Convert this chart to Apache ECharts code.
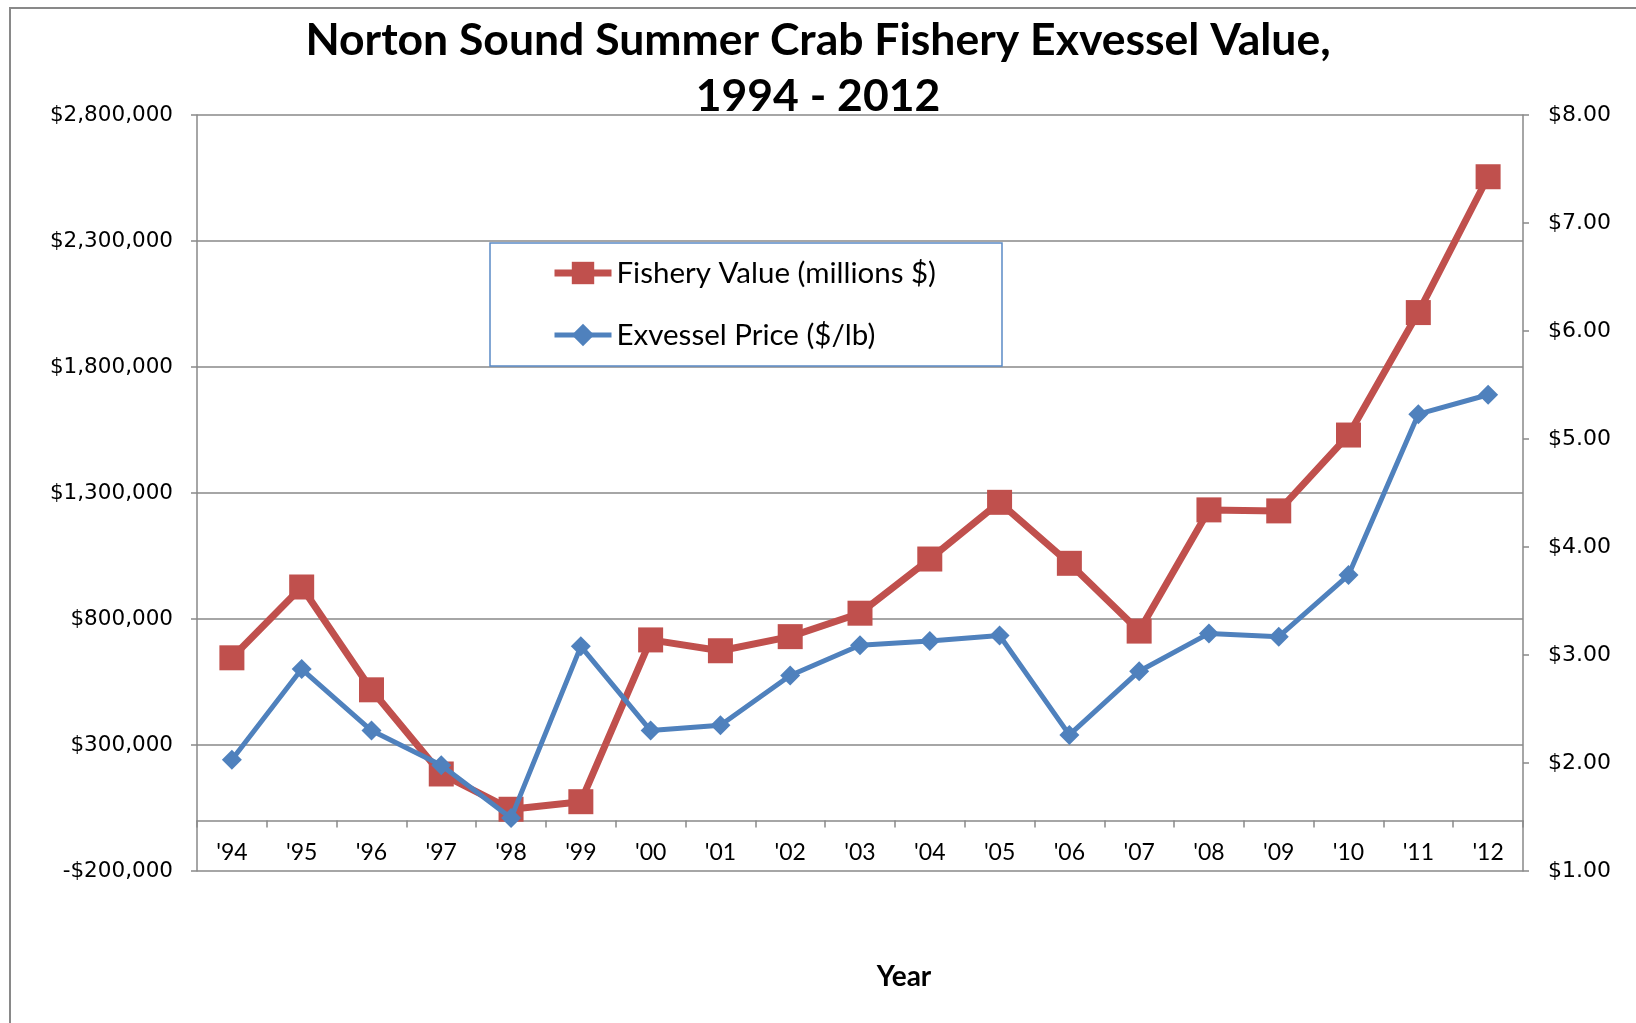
<!DOCTYPE html>
<html>
<head>
    <meta charset="UTF-8">
    <title>Norton Sound Summer Crab Fishery Exvessel Value</title>
    <script src="https://cdn.jsdelivr.net/npm/echarts@6/dist/echarts.min.js"></script>
    <style>
        html, body { margin: 0; padding: 0; background: #fff; }
        #chart { width: 1636px; height: 1023px; }
    </style>
</head>
<body>
    <div id="chart"></div>

<script type="text/javascript">
    // data
    var years = ["'94", "'95", "'96", "'97", "'98", "'99", "'00", "'01", "'02", "'03",
                 "'04", "'05", "'06", "'07", "'08", "'09", "'10", "'11", "'12"];
    var fisheryValue = [646000, 927000, 519000, 185000, 45000, 75000, 717000, 674000, 730000, 823000,
                        1038000, 1263000, 1021000, 752000, 1233000, 1229000, 1530000, 2016000, 2555000];
    var exvesselPrice = [2.03, 2.87, 2.30, 1.98, 1.49, 3.08, 2.30, 2.35, 2.81, 3.09,
                         3.13, 3.18, 2.26, 2.85, 3.20, 3.17, 3.74, 5.23, 5.41];

    var gray = '#898989';
    var sansFont = 'Lato';
    var numFont = 'DejaVu Sans';

    function money(v) {
        var s = Math.abs(v).toString().replace(/\B(?=(\d{3})+(?!\d))/g, ',');
        return (v < 0 ? '-$' : '$') + s;
    }

    var myChart = echarts.init(document.getElementById('chart'));

    var option = {
        backgroundColor: '#fff',
        animation: false,
        title: {
            text: 'Norton Sound Summer Crab Fishery Exvessel Value,\n1994 - 2012',
            left: 'center',
            top: 8,
            textStyle: {
                fontFamily: sansFont,
                fontWeight: 'bold',
                fontSize: 44.5,
                lineHeight: 56,
                color: '#000'
            }
        },
        legend: {
            orient: 'vertical',
            left: 490,
            top: 243,
            backgroundColor: '#fff',
            borderColor: '#5b8bc6',
            borderWidth: 1.5,
            borderRadius: 0,
            padding: [15, 66, 16, 61],
            itemWidth: 57,
            itemHeight: 28,
            itemGap: 32,
            textStyle: {
                fontFamily: sansFont,
                fontSize: 29.5,
                lineHeight: 30,
                color: '#000'
            },
            data: [
                { name: 'Fishery Value (millions $)', lineStyle: { width: 7 } },
                { name: 'Exvessel Price ($/lb)', lineStyle: { width: 5 } }
            ]
        },
        graphic: [
            {
                type: 'rect',
                silent: true,
                z: -10,
                shape: { x: 10, y: 8, width: 1700, height: 1100 },
                style: { fill: null, stroke: gray, lineWidth: 2 }
            },
            {
                type: 'text',
                x: 904,
                y: 977,
                style: {
                    text: 'Year',
                    fontFamily: sansFont,
                    fontWeight: 'bold',
                    fontSize: 28,
                    fill: '#000',
                    align: 'center',
                    verticalAlign: 'middle'
                }
            }
        ],
        grid: {
            left: 197,
            right: 113,
            top: 115,
            bottom: 152,
            containLabel: false
        },
        xAxis: {
            type: 'category',
            data: years,
            boundaryGap: true,
            axisLine: {
                onZero: true,
                onZeroAxisIndex: 0,
                lineStyle: { color: gray, width: 1.5 }
            },
            axisTick: {
                show: true,
                length: 7,
                lineStyle: { color: gray, width: 1.5 }
            },
            axisLabel: {
                margin: -30,
                fontFamily: sansFont,
                fontSize: 23,
                color: '#000'
            },
            splitLine: { show: false }
        },
        yAxis: [
            {
                type: 'value',
                position: 'left',
                min: -200000,
                max: 2800000,
                interval: 500000,
                axisLine: { show: true, lineStyle: { color: gray, width: 1.5 } },
                axisTick: { show: true, length: 6, lineStyle: { color: gray, width: 1.5 } },
                axisLabel: {
                    margin: 24,
                    fontFamily: numFont,
                    fontSize: 21.5,
                    color: '#000',
                    formatter: money
                },
                splitLine: { show: true, lineStyle: { color: gray, width: 1.5 } }
            },
            {
                type: 'value',
                position: 'right',
                min: 1,
                max: 8,
                interval: 1,
                axisLine: { show: true, lineStyle: { color: gray, width: 1.5 } },
                axisTick: { show: true, length: 6, lineStyle: { color: gray, width: 1.5 } },
                axisLabel: {
                    margin: 25,
                    fontFamily: numFont,
                    fontSize: 22,
                    color: '#000',
                    formatter: function (v) { return '$' + v.toFixed(2); }
                },
                splitLine: { show: false }
            }
        ],
        series: [
            {
                name: 'Fishery Value (millions $)',
                type: 'line',
                yAxisIndex: 0,
                data: fisheryValue,
                symbol: 'rect',
                symbolSize: 25,
                color: '#c0504d',
                lineStyle: { width: 7, color: '#c0504d' },
                itemStyle: { color: '#c0504d' },
                z: 2
            },
            {
                name: 'Exvessel Price ($/lb)',
                type: 'line',
                yAxisIndex: 1,
                data: exvesselPrice,
                symbol: 'diamond',
                symbolSize: 20,
                color: '#4f81bd',
                lineStyle: { width: 5, color: '#4f81bd' },
                itemStyle: { color: '#4f81bd' },
                z: 3
            }
        ]
    };

    myChart.setOption(option);
</script>
</body>
</html>
